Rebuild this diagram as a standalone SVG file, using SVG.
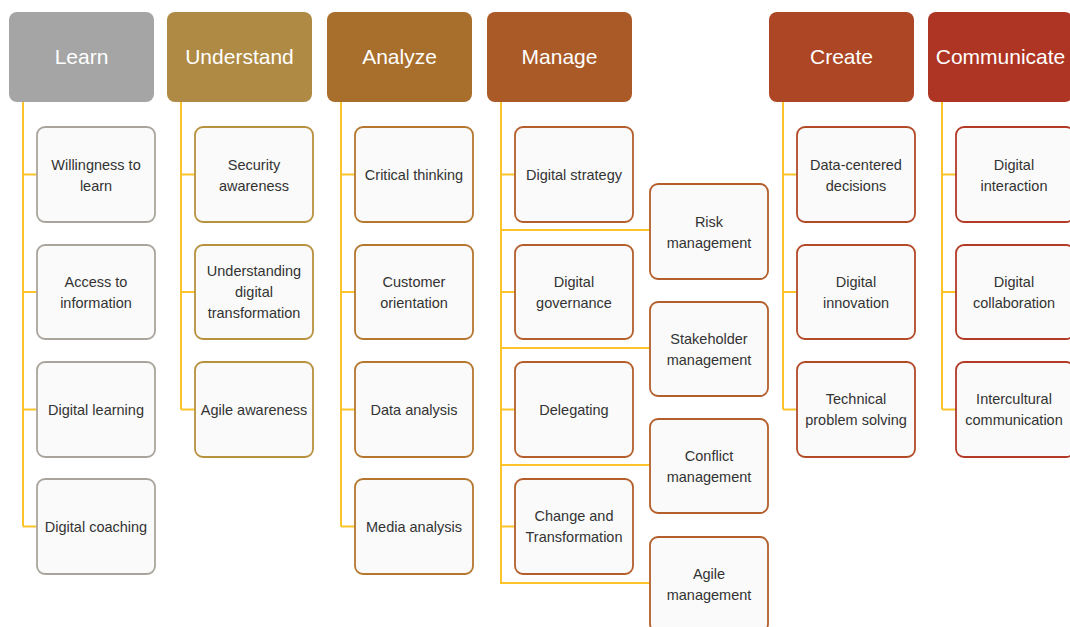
<svg xmlns="http://www.w3.org/2000/svg" width="1070" height="627" viewBox="0 0 1070 627">
<style>
.hd{stroke:none}
.ht{font-family:"Liberation Sans",Arial,sans-serif;font-size:21px;fill:#ffffff;text-anchor:middle}
.ch{fill:#fafafa;stroke-width:1.8}
.ct{font-family:"Liberation Sans",Arial,sans-serif;font-size:14.5px;fill:#333333;text-anchor:middle}
.ln{fill:none;stroke:#fcc42a;stroke-width:2}
.g1{stroke:#aaa59c}.g2{stroke:#b8913f}.g3{stroke:#b5772f}.g4{stroke:#b35e2b}.g5{stroke:#b24a28}.g6{stroke:#b23a27}
</style>
<g id="connectors">
<path class="ln" d="M23,102 V526.5 M23,174.5 H37 M23,292 H37 M23,409.5 H37 M23,526.5 H37"/>
<path class="ln" d="M181,102 V409.5 M181,174.5 H195 M181,292 H195 M181,409.5 H195"/>
<path class="ln" d="M341,102 V526.5 M341,174.5 H355 M341,292 H355 M341,409.5 H355 M341,526.5 H355"/>
<path class="ln" d="M501,102 V583 H650 M501,174.5 H515 M501,292 H515 M501,409.5 H515 M501,526.5 H515 M501,230 H650 M501,348 H650 M501,465 H650"/>
<path class="ln" d="M783,102 V409.5 M783,174.5 H797 M783,292 H797 M783,409.5 H797"/>
<path class="ln" d="M942,102 V409.5 M942,174.5 H956 M942,292 H956 M942,409.5 H956"/>
</g>
<g id="learn">
<rect class="hd" x="9" y="12" width="145" height="90" rx="8" fill="#a5a5a5"/>
<text class="ht" x="81.5" y="64">Learn</text>
</g>
<g id="understand">
<rect class="hd" x="167" y="12" width="145" height="90" rx="8" fill="#ae8a44"/>
<text class="ht" x="239.5" y="64">Understand</text>
</g>
<g id="analyze">
<rect class="hd" x="327" y="12" width="145" height="90" rx="8" fill="#a86e2b"/>
<text class="ht" x="399.5" y="64">Analyze</text>
</g>
<g id="manage">
<rect class="hd" x="487" y="12" width="145" height="90" rx="8" fill="#aa5a27"/>
<text class="ht" x="559.5" y="64">Manage</text>
</g>
<g id="create">
<rect class="hd" x="769" y="12" width="145" height="90" rx="8" fill="#ac4624"/>
<text class="ht" x="841.5" y="64">Create</text>
</g>
<g id="communicate">
<rect class="hd" x="928" y="12" width="145" height="90" rx="8" fill="#ae3523"/>
<text class="ht" x="1000.5" y="64">Communicate</text>
</g>

<g id="willingness">
<rect class="ch g1" x="37" y="127" width="118" height="95" rx="8"/>
<text class="ct" x="96" y="169.5">Willingness to</text><text class="ct" x="96" y="190.5">learn</text>
</g>
<g id="access">
<rect class="ch g1" x="37" y="245" width="118" height="94" rx="8"/>
<text class="ct" x="96" y="287">Access to</text><text class="ct" x="96" y="308">information</text>
</g>
<g id="digital-learning">
<rect class="ch g1" x="37" y="362" width="118" height="95" rx="8"/>
<text class="ct" x="96" y="414.5">Digital learning</text>
</g>
<g id="digital-coaching">
<rect class="ch g1" x="37" y="479" width="118" height="95" rx="8"/>
<text class="ct" x="96" y="531.5">Digital coaching</text>
</g>

<g id="security">
<rect class="ch g2" x="195" y="127" width="118" height="95" rx="8"/>
<text class="ct" x="254" y="169.5">Security</text><text class="ct" x="254" y="190.5">awareness</text>
</g>
<g id="understanding">
<rect class="ch g2" x="195" y="245" width="118" height="94" rx="8"/>
<text class="ct" x="254" y="276">Understanding</text><text class="ct" x="254" y="297">digital</text><text class="ct" x="254" y="318">transformation</text>
</g>
<g id="agile-awareness">
<rect class="ch g2" x="195" y="362" width="118" height="95" rx="8"/>
<text class="ct" x="254" y="414.5">Agile awareness</text>
</g>

<g id="critical">
<rect class="ch g3" x="355" y="127" width="118" height="95" rx="8"/>
<text class="ct" x="414" y="179.5">Critical thinking</text>
</g>
<g id="customer">
<rect class="ch g3" x="355" y="245" width="118" height="94" rx="8"/>
<text class="ct" x="414" y="287">Customer</text><text class="ct" x="414" y="308">orientation</text>
</g>
<g id="data-analysis">
<rect class="ch g3" x="355" y="362" width="118" height="95" rx="8"/>
<text class="ct" x="414" y="414.5">Data analysis</text>
</g>
<g id="media-analysis">
<rect class="ch g3" x="355" y="479" width="118" height="95" rx="8"/>
<text class="ct" x="414" y="531.5">Media analysis</text>
</g>

<g id="digital-strategy">
<rect class="ch g4" x="515" y="127" width="118" height="95" rx="8"/>
<text class="ct" x="574" y="179.5">Digital strategy</text>
</g>
<g id="digital-governance">
<rect class="ch g4" x="515" y="245" width="118" height="94" rx="8"/>
<text class="ct" x="574" y="287">Digital</text><text class="ct" x="574" y="308">governance</text>
</g>
<g id="delegating">
<rect class="ch g4" x="515" y="362" width="118" height="95" rx="8"/>
<text class="ct" x="574" y="414.5">Delegating</text>
</g>
<g id="change">
<rect class="ch g4" x="515" y="479" width="118" height="95" rx="8"/>
<text class="ct" x="574" y="521">Change and</text><text class="ct" x="574" y="542">Transformation</text>
</g>
<g id="risk">
<rect class="ch g4" x="650" y="184" width="118" height="95" rx="8"/>
<text class="ct" x="709" y="226.5">Risk</text><text class="ct" x="709" y="247.5">management</text>
</g>
<g id="stakeholder">
<rect class="ch g4" x="650" y="302" width="118" height="94" rx="8"/>
<text class="ct" x="709" y="343.5">Stakeholder</text><text class="ct" x="709" y="364.5">management</text>
</g>
<g id="conflict">
<rect class="ch g4" x="650" y="419" width="118" height="94" rx="8"/>
<text class="ct" x="709" y="460.5">Conflict</text><text class="ct" x="709" y="481.5">management</text>
</g>
<g id="agile-management">
<rect class="ch g4" x="650" y="537" width="118" height="95" rx="8"/>
<text class="ct" x="709" y="578.5">Agile</text><text class="ct" x="709" y="599.5">management</text>
</g>

<g id="data-centered">
<rect class="ch g5" x="797" y="127" width="118" height="95" rx="8"/>
<text class="ct" x="856" y="169.5">Data-centered</text><text class="ct" x="856" y="190.5">decisions</text>
</g>
<g id="digital-innovation">
<rect class="ch g5" x="797" y="245" width="118" height="94" rx="8"/>
<text class="ct" x="856" y="287">Digital</text><text class="ct" x="856" y="308">innovation</text>
</g>
<g id="technical">
<rect class="ch g5" x="797" y="362" width="118" height="95" rx="8"/>
<text class="ct" x="856" y="404">Technical</text><text class="ct" x="856" y="425">problem solving</text>
</g>

<g id="digital-interaction">
<rect class="ch g6" x="956" y="127" width="118" height="95" rx="8"/>
<text class="ct" x="1014" y="169.5">Digital</text><text class="ct" x="1014" y="190.5">interaction</text>
</g>
<g id="digital-collaboration">
<rect class="ch g6" x="956" y="245" width="118" height="94" rx="8"/>
<text class="ct" x="1014" y="287">Digital</text><text class="ct" x="1014" y="308">collaboration</text>
</g>
<g id="intercultural">
<rect class="ch g6" x="956" y="362" width="118" height="95" rx="8"/>
<text class="ct" x="1014" y="404">Intercultural</text><text class="ct" x="1014" y="425">communication</text>
</g>
</svg>
